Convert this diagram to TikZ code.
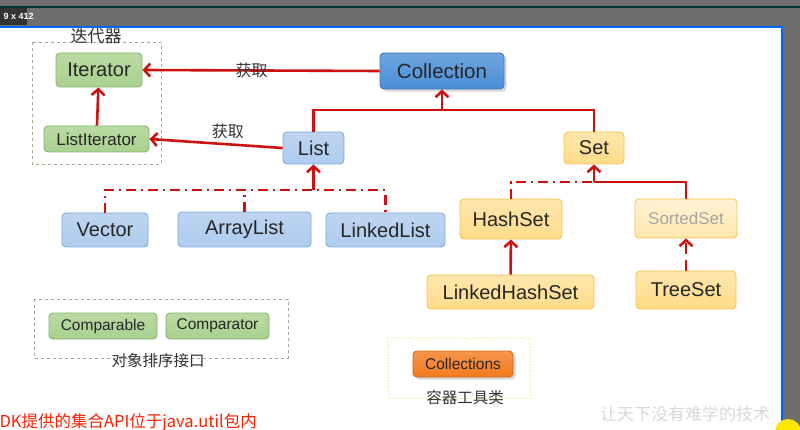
\documentclass[tikz,border=0pt]{standalone}
\usepackage{fontspec}
\setmainfont{Liberation Sans}
\newfontfamily\cjk{Noto Sans CJK SC}
\usetikzlibrary{arrows.meta, shadows}

\definecolor{linkred}{HTML}{CC1111}
\definecolor{greenfill}{HTML}{A9D18E}
\definecolor{greendraw}{HTML}{86B46A}
\definecolor{bluefill}{HTML}{AECBEE}
\definecolor{bluedraw}{HTML}{7FA9DD}
\definecolor{darkblue}{HTML}{4A8ED8}
\definecolor{yellowfill}{HTML}{FFDC8A}
\definecolor{yellowdraw}{HTML}{F8C24A}
\definecolor{orangefill}{HTML}{F47A1E}
\definecolor{framegray}{HTML}{6E6E6E}
\definecolor{noteolive}{HTML}{A3AA90}

\tikzset{
  box/.style={rounded corners=4pt, line width=0.9pt, inner sep=0pt,
    text=black!85},
  bigfont/.style={font=\fontsize{20}{24}\selectfont},
  midfont/.style={font=\fontsize{17}{20}\selectfont},
  smallfont/.style={font=\fontsize{15.5}{18}\selectfont},
  greenbox/.style={box, draw=greendraw, top color=greenfill!80!white,
    bottom color=greenfill},
  bluebox/.style={box, draw=bluedraw, top color=bluefill!80!white,
    bottom color=bluefill},
  darkbluebox/.style={box, draw=darkblue!85!black, top color=darkblue!80!white,
    bottom color=darkblue, drop shadow={opacity=0.3}},
  yellowbox/.style={box, draw=yellowdraw, top color=yellowfill!70!white,
    bottom color=yellowfill},
  orangebox/.style={box, draw=orangefill!85!black, top color=orangefill!80!white,
    bottom color=orangefill, drop shadow={opacity=0.3}},
  group/.style={draw=noteolive, line width=0.9pt, dash pattern=on 3pt off 3pt},
  link/.style={draw=linkred, line width=2.6pt},
  dashdot/.style={link, dash pattern=on 10pt off 5pt on 2pt off 5pt},
  cjklabel/.style={font=\cjk\fontsize{16}{18}\selectfont, text=black!80}
}

\begin{document}
\begin{tikzpicture}[x=1pt, y=-1pt, >={Straight Barb[length=6pt,width=13pt]}]
  \useasboundingbox (0,0) rectangle (800,430);

  % Screen frame
  \fill[white] (0,0) rectangle (800,430);
  \fill[framegray] (0,0) rectangle (800,27);
  \fill[framegray] (782,0) rectangle (800,430);
  \draw[teal!40!black, line width=1.5pt] (0,7) -- (800,7);
  \draw[blue!60!cyan, line width=1.5pt] (0,27) -- (782,27) -- (782,430);
  \fill[black!80] (0,8) rectangle (27,25);
  \node[anchor=west, text=white, font=\fontsize{9}{10}\selectfont\bfseries]
    (size) at (0,16.5) {9 x 412};

  % Groups
  \draw[group] (32,42) rectangle (161,164);
  \draw[group] (34,299) rectangle (288,358);
  \draw[draw=yellow!40!olive!40, line width=0.8pt, dotted]
    (388,338) rectangle (530,398);
  \node[cjklabel, font=\cjk\fontsize{17}{19}\selectfont] (iterlabel) at (96,36) {迭代器};
  \node[cjklabel, font=\cjk\fontsize{15.5}{18}\selectfont] (sortlabel) at (158,361) {对象排序接口};
  \node[cjklabel, font=\cjk\fontsize{15.5}{18}\selectfont] (toollabel) at (465,398) {容器工具类};

  % Interfaces and classes
  \node[greenbox, bigfont, minimum width=86pt, minimum height=34pt] (iter) at (99,70) {Iterator};
  \node[greenbox, midfont, minimum width=105pt, minimum height=26pt] (listiter) at (96.5,139) {ListIterator};
  \node[darkbluebox, font=\fontsize{20.5}{24}\selectfont, minimum width=124pt, minimum height=36pt] (coll) at (442,71) {Collection};
  \node[bluebox, bigfont, minimum width=61pt, minimum height=32pt] (list) at (313.5,148) {List};
  \node[yellowbox, bigfont, minimum width=60pt, minimum height=32pt] (set) at (594,148) {Set};
  \node[bluebox, bigfont, minimum width=86pt, minimum height=34pt] (vector) at (105,230) {Vector};
  \node[bluebox, bigfont, minimum width=133pt, minimum height=35pt] (arraylist) at (244.5,229.5) {ArrayList};
  \node[bluebox, bigfont, minimum width=119pt, minimum height=34pt] (linkedlist) at (385.5,230) {LinkedList};
  \node[yellowbox, bigfont, minimum width=102pt, minimum height=40pt] (hashset) at (511,219) {HashSet};
  \node[yellowbox, midfont, top color=yellowfill!35!white, bottom color=yellowfill!70!white,
    text=black!35, minimum width=102pt, minimum height=39pt] (sortedset) at (686,218.5) {SortedSet};
  \node[yellowbox, bigfont, minimum width=167pt, minimum height=34pt] (linkedhashset) at (510.5,292) {LinkedHashSet};
  \node[yellowbox, bigfont, minimum width=100pt, minimum height=38pt] (treeset) at (686,290) {TreeSet};
  \node[greenbox, smallfont, minimum width=108pt, minimum height=26pt] (comparable) at (103,326) {Comparable};
  \node[greenbox, smallfont, minimum width=103pt, minimum height=26pt] (comparator) at (217.5,326) {Comparator};
  \node[orangebox, smallfont, minimum width=100pt, minimum height=26pt] (colls) at (463,364) {Collections};

  % Junctions
  \coordinate (colljoin) at (442,110);
  \coordinate (listjoin) at (313.5,190);
  \coordinate (setjoin) at (594,182);

  % Connectors
  \draw[link, ->] (coll.west) -- (iter.east)
    node[cjklabel, pos=0.54] (get1) {获取};
  \draw[link, ->] (list.west) -- (listiter.east)
    node[cjklabel, pos=0.41, above=1pt] (get2) {获取};
  \draw[link, ->] (listiter) -- (iter);
  \draw[link] (list.north) |- (colljoin) -| (set.north);
  \draw[link, ->] (colljoin) -- (coll.south);
  \draw[dashdot] (vector.north) |- (listjoin) -| (linkedlist.north);
  \draw[dashdot] (arraylist.north) -- (arraylist.north |- listjoin);
  \draw[link, ->] (listjoin) -- (list.south);
  \draw[dashdot] (hashset.north) |- (setjoin);
  \draw[link] (sortedset.north) |- (setjoin);
  \draw[link, ->] (setjoin) -- (set.south);
  \draw[link, ->] (linkedhashset) -- (hashset);
  \draw[link, ->, dash pattern=on 11pt off 6pt] (treeset) -- (sortedset);

  % Notes
  \node[anchor=base west, text=red!75!orange, font=\cjk\fontsize{16.5}{18}\selectfont]
    (note) at (-4,427) {DK提供的集合API位于java.util包内};
  \node[text=black!15, font=\cjk\fontsize{17}{19}\selectfont] (mark) at (685,414) {让天下没有难学的技术};
  \fill[yellow!90!orange] (788,432) circle (13);
\end{tikzpicture}
\end{document}
